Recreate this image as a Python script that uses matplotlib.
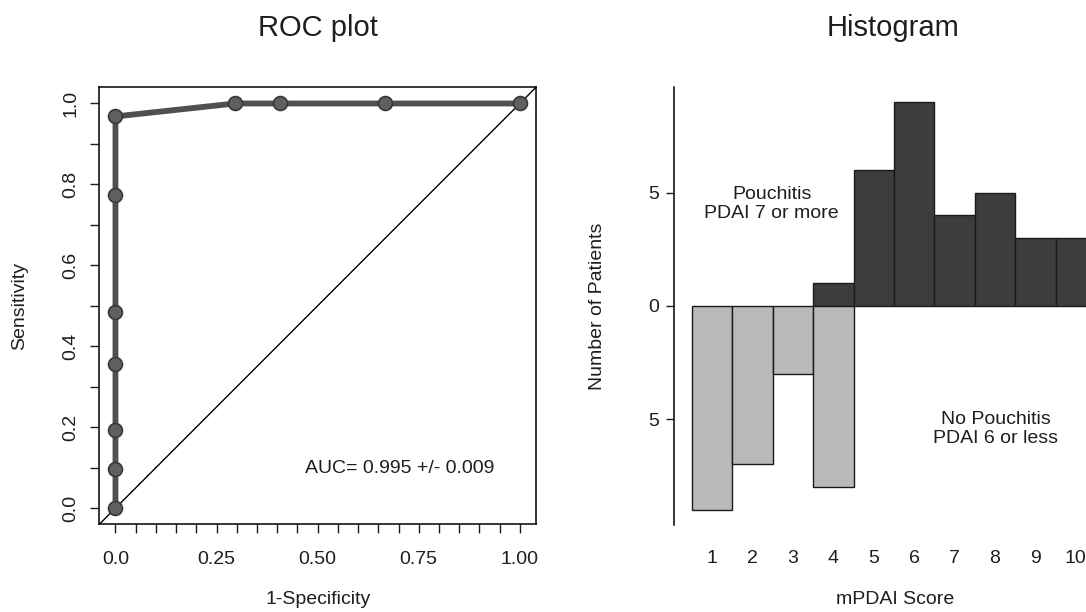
import numpy as np
import matplotlib.pyplot as plt

plt.rcParams['font.family'] = ['Liberation Sans', 'DejaVu Sans']

# ROC points (1-specificity, sensitivity)
roc_fpr = [0.0, 0.0, 0.0, 0.0, 0.0, 0.0, 0.0, 0.296, 0.407, 0.667, 1.0]
roc_tpr = [0.0, 0.097, 0.194, 0.355, 0.484, 0.774, 0.968, 1.0, 1.0, 1.0, 1.0]
auc_text = "AUC= 0.995 +/- 0.009"

# histogram counts per mPDAI score
scores = np.arange(1, 11)
pouchitis_counts = np.array([0, 0, 0, 1, 6, 9, 4, 5, 3, 3])
no_pouchitis_counts = np.array([9, 7, 3, 8, 0, 0, 0, 0, 0, 0])

roc_xticks = np.round(np.arange(0, 1.0001, 0.05), 2)
roc_xticklabels = {0.0: "0.0", 0.25: "0.25", 0.5: "0.50", 0.75: "0.75", 1.0: "1.00"}
roc_yticks = np.round(np.arange(0, 1.0001, 0.1), 1)
roc_yticklabels = {0.0: "0.0", 0.2: "0.2", 0.4: "0.4", 0.6: "0.6", 0.8: "0.8", 1.0: "1.0"}

W, H = 1086, 612
fig = plt.figure(figsize=(W / 100, H / 100), dpi=100)

def px(x0, y0, x1, y1):
    # pixel box -> figure fraction rect
    return [x0 / W, 1 - y1 / H, (x1 - x0) / W, (y1 - y0) / H]

fs = 14
txt = "#1e1e1e"

# ---------------- ROC plot ----------------
ax1 = fig.add_axes(px(99.3, 87.3, 536, 524.3))
ax1.plot([-0.04, 1.04], [-0.04, 1.04], color="black", lw=1.0)
ax1.plot(roc_fpr, roc_tpr, color="#505050", lw=4.2, marker="o", ms=10,
         mfc="#606060", mec="#383838", mew=1.2, zorder=3)
ax1.set_xlim(-0.04, 1.04)
ax1.set_ylim(-0.04, 1.04)
ax1.set_xticks(roc_xticks)
ax1.set_xticklabels([roc_xticklabels.get(float(t), "") for t in roc_xticks])
ax1.set_yticks(roc_yticks)
ax1.set_yticklabels([roc_yticklabels.get(float(t), "") for t in roc_yticks],
                    rotation=90, va="center")
ax1.tick_params(direction="out", length=6.5, width=1.0, labelsize=fs, colors=txt)
ax1.tick_params(axis="x", pad=13)
ax1.tick_params(axis="y", pad=8)
for s in ax1.spines.values():
    s.set_linewidth(1.1)
ax1.text(0.469, 0.097, auc_text, fontsize=fs, ha="left", va="center", color=txt)

fig.text(317.7 / W, 1 - 28 / H, "ROC plot", fontsize=21, ha="center", va="center", color=txt)
fig.text(318 / W, 1 - 599 / H, "1-Specificity", fontsize=fs, ha="center", va="center", color=txt)
fig.text(20 / W, 1 - 306 / H, "Sensitivity", fontsize=fs, ha="center", va="center",
         rotation=90, color=txt)

# ---------------- Histogram ----------------
ax2 = fig.add_axes(px(674.3, 86.7, 1113.8, 525))
m = pouchitis_counts > 0
ax2.bar(scores[m], pouchitis_counts[m], width=1.0, color="#3d3d3d", edgecolor="#1a1a1a", lw=1.0)
m = no_pouchitis_counts > 0
ax2.bar(scores[m], -no_pouchitis_counts[m], width=1.0, color="#b9b9b9", edgecolor="#1a1a1a", lw=1.0)
ax2.set_xlim(0.062, 10.94)
ax2.set_ylim(-9.68, 9.68)
ax2.set_xticks(scores)
ax2.set_xticklabels([str(s) for s in scores])
ax2.set_yticks([-5, 0, 5])
ax2.set_yticklabels(["5", "0", "5"])
ax2.tick_params(axis="x", length=0, pad=18, labelsize=fs, colors=txt)
ax2.tick_params(axis="y", direction="out", length=6, width=1.0, pad=5, labelsize=fs, colors=txt)
for side in ["top", "right", "bottom"]:
    ax2.spines[side].set_visible(False)
ax2.spines["left"].set_linewidth(1.1)
ax2.text(2.47, 4.5, "Pouchitis\nPDAI 7 or more", fontsize=fs, ha="center", va="center",
         linespacing=1.15, color=txt)
ax2.text(8.02, -5.46, "No Pouchitis\nPDAI 6 or less", fontsize=fs, ha="center", va="center",
         linespacing=1.15, color=txt)

fig.text(893 / W, 1 - 28 / H, "Histogram", fontsize=21, ha="center", va="center", color=txt)
fig.text(895 / W, 1 - 599 / H, "mPDAI Score", fontsize=fs, ha="center", va="center", color=txt)
fig.text(597 / W, 1 - 306 / H, "Number of Patients", fontsize=fs, ha="center", va="center",
         rotation=90, color=txt)

fig.savefig("out.png", dpi=100)
